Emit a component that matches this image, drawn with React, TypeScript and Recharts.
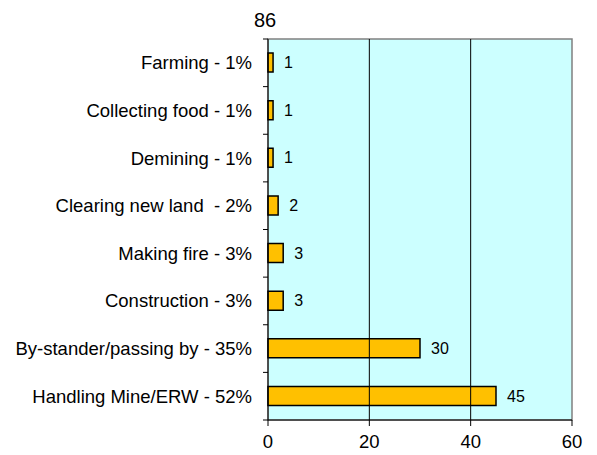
import { BarChart, Bar, XAxis, YAxis, CartesianGrid, LabelList, ReferenceArea, ReferenceLine } from "recharts";

const categories = [
  "Farming - 1%",
  "Collecting food - 1%",
  "Demining - 1%",
  "Clearing new land  - 2%",
  "Making fire - 3%",
  "Construction - 3%",
  "By-stander/passing by - 35%",
  "Handling Mine/ERW - 52%",
];
const victims = [1, 1, 1, 2, 3, 3, 30, 45];
const xTicks = [0, 20, 40, 60];
const gridValues = [20, 40];
const title = "86";

const W = 597;
const H = 455;
const MARGIN = { top: 39, right: 25, left: 0, bottom: 0 };
const Y_AXIS_W = 268;
const X_AXIS_H = 35;
const PLOT_H = H - MARGIN.top - MARGIN.bottom - X_AXIS_H;
const AXIS_X = MARGIN.left + Y_AXIS_W;
const FONT = "'Liberation Sans', Arial, sans-serif";

const data = categories.map((name, i) => ({ name, value: victims[i] }));

function CategoryTick(props: any) {
  const { y, payload, index } = props;
  const band = PLOT_H / categories.length;
  return (
    <g>
      <line x1={AXIS_X - 5} x2={AXIS_X} y1={y - band / 2} y2={y - band / 2} stroke="#000" />
      {index === categories.length - 1 && (
        <line x1={AXIS_X - 5} x2={AXIS_X} y1={y + band / 2} y2={y + band / 2} stroke="#000" />
      )}
      <text
        x={AXIS_X - 16}
        y={y}
        dy="0.35em"
        textAnchor="end"
        fontSize={18.5}
        fontFamily={FONT}
        fill="#000"
        style={{ whiteSpace: "pre" }}
      >
        {payload.value}
      </text>
    </g>
  );
}

export default function App() {
  return (
    <div style={{ position: "absolute", left: 0, top: 0, width: W, height: H, background: "#fff" }}>
      <div style={{
        position: "absolute",
        left: 240,
        top: 10,
        width: 50,
        textAlign: "center",
        fontFamily: FONT,
        fontSize: 20,
        lineHeight: "20px",
        color: "#000",
      }}>
        {title}
      </div>
      <BarChart width={W} height={H} data={data} layout="vertical" margin={MARGIN} barSize={19}>
        <CartesianGrid horizontal={false} vertical={false} fill="#CCFFFF" fillOpacity={1} />
        <ReferenceArea x1={0} x2={60} fill="none" stroke="#808080" strokeWidth={1.5} ifOverflow="visible" />
        {gridValues.map((v) => (
          <ReferenceLine key={v} x={v} stroke="#000" strokeWidth={1} />
        ))}
        <XAxis
          type="number"
          domain={[0, 60]}
          ticks={xTicks}
          height={X_AXIS_H}
          tickSize={6}
          tickMargin={9}
          stroke="#000"
          tick={{ fill: "#000", fontSize: 18.5, fontFamily: FONT }}
        />
        <YAxis
          type="category"
          dataKey="name"
          width={Y_AXIS_W}
          tickLine={false}
          stroke="#000"
          interval={0}
          tick={<CategoryTick />}
        />
        <Bar dataKey="value" fill="#FFC000" stroke="#000" strokeWidth={1.5} isAnimationActive={false}>
          <LabelList dataKey="value" position="right" offset={11} fill="#000" fontSize={16} fontFamily={FONT} />
        </Bar>
      </BarChart>
    </div>
  );
}
